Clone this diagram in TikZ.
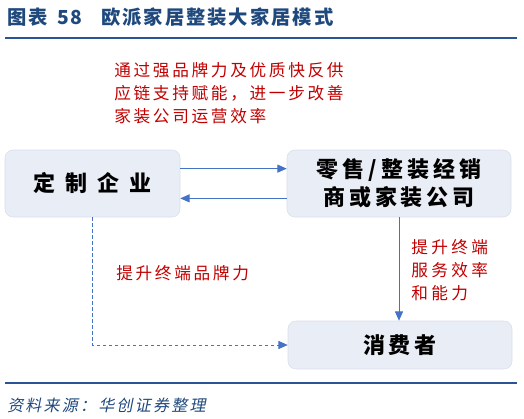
\documentclass[tikz,border=0pt]{standalone}
\usepackage{fontspec}
\usetikzlibrary{calc,arrows.meta}
\newfontfamily\titlefont[LetterSpace=10]{Noto Sans CJK SC}
\newfontfamily\corpfont[LetterSpace=45]{Noto Sans CJK SC}
\newfontfamily\dealerfont[LetterSpace=18]{Noto Sans CJK SC}
\newfontfamily\userfont[LetterSpace=18]{Noto Sans CJK SC}
\newfontfamily\notefont[LetterSpace=16]{Noto Sans CJK SC}
\newfontfamily\sidefont[LetterSpace=20]{Noto Sans CJK SC}
\newfontfamily\srcfont[LetterSpace=14,FakeSlant=0.2]{Noto Sans CJK SC}
\definecolor{titleblue}{HTML}{1F497D}
\definecolor{ruleblue}{HTML}{2B5496}
\definecolor{boxfill}{HTML}{E9EDF5}
\definecolor{boxline}{HTML}{D8DEEA}
\definecolor{arrowblue}{HTML}{4472C4}
\definecolor{notered}{HTML}{C00000}
\tikzset{
	firmbox/.style={draw=boxline, fill=boxfill, rounded corners=6pt, line width=0.4pt, inner sep=0pt},
	flow/.style={draw=arrowblue, line width=0.75pt, -{Triangle[length=7pt,width=6pt]}},
	note/.style={text=notered, anchor=west, align=left, inner sep=0pt, font=\notefont\fontsize{12.5}{17.25}\selectfont},
	rulebar/.style={draw=ruleblue, line width=1.8pt}
}

\begin{document}
\begin{tikzpicture}[x=0.75pt, y=-0.75pt]
		%%%%% START %%%%%
		\useasboundingbox (0, 0) rectangle (524, 418);
		
		\node[anchor=west, inner sep=0pt, text=titleblue, font=\titlefont\bfseries\fontsize{14.5}{17}\selectfont] (title) at (7, 17) {图表\hspace{7pt}58\hspace{14pt}欧派家居整装大家居模式};
		\draw[rulebar] (5, 38) -- (517, 38);
		
		\node[firmbox, minimum width=131.25pt, minimum height=50.25pt, font=\corpfont\bfseries\fontsize{16.5}{20}\selectfont] (corp) at (92.5, 183.5) {定制企业};
		\node[firmbox, minimum width=168pt, minimum height=50.25pt, align=center, font=\dealerfont\bfseries\fontsize{16.5}{21}\selectfont] (dealer) at (399, 183.5) {零售/整装经销\\商或家装公司};
		\node[firmbox, minimum width=168pt, minimum height=36pt, font=\userfont\bfseries\fontsize{16.5}{20}\selectfont] (consumer) at (400, 345) {消费者};
		
		\node[note] (support) at (114, 93) {通过强品牌力及优质快反供\\应链支持赋能，进一步改善\\家装公司运营效率};
		\node[note] (brand) at (116, 273) {提升终端品牌力};
		\node[note, font=\sidefont\fontsize{12.5}{17.25}\selectfont] (service) at (411, 270) {提升终端\\服务效率\\和能力};
		
		\draw[flow] ($(corp.north east)!0.28!(corp.south east)$) -- ($(dealer.north west)!0.28!(dealer.south west)$);
		\draw[flow] ($(dealer.north west)!0.72!(dealer.south west)$) -- ($(corp.north east)!0.72!(corp.south east)$);
		\draw[flow, dash pattern=on 2.5pt off 2pt] (corp.south) |- (consumer.west);
		\draw[flow] (dealer.south) -- (dealer.south |- consumer.north);
		
		\draw[rulebar] (5, 383) -- (517, 383);
		\node[anchor=west, inner sep=0pt, text=titleblue, font=\srcfont\fontsize{12}{14}\selectfont] (source) at (7, 405) {资料来源：华创证券整理};
		%%%%% END %%%%%
\end{tikzpicture}
\end{document}
